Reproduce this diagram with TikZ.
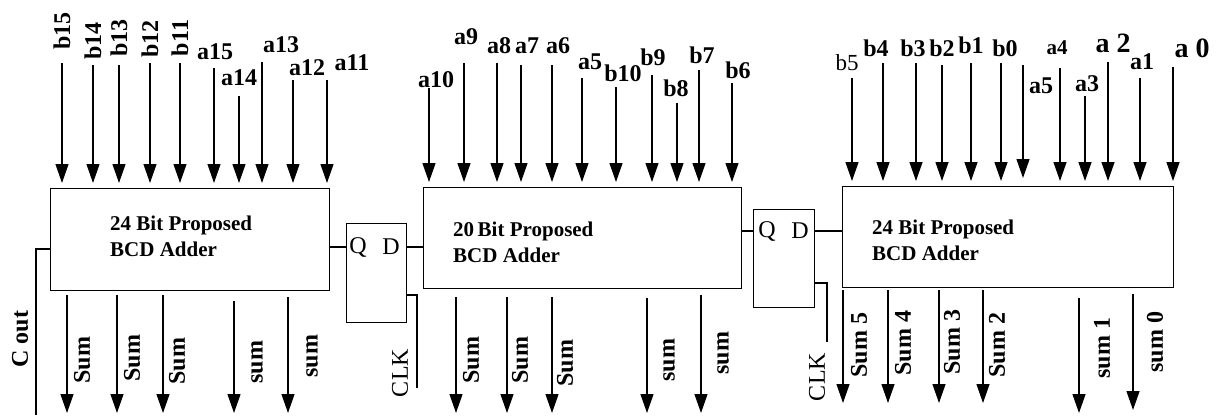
\documentclass[tikz,border=0pt]{standalone}
\usepackage{fontspec}
\setmainfont{Liberation Serif}
\usetikzlibrary{arrows.meta}
\newcommand\lblfont{\fontsize{24}{26}\selectfont\bfseries}
\newcommand\boxfont{\fontsize{21}{26}\selectfont\bfseries}
\newcommand\fffont{\fontsize{24}{26}\selectfont}

\begin{document}
\begin{tikzpicture}[x=1pt, y=-1pt,
  adder/.style={draw, line width=1.3pt, inner sep=0pt, anchor=north west},
  dff/.style={draw, line width=1.3pt, inner sep=0pt, anchor=north west},
  btxt/.style={font=\boxfont, align=left, anchor=west, inner sep=0pt},
  fftxt/.style={font=\fffont, inner sep=0pt},
  wire/.style={line width=1.3pt},
  inarr/.style={line width=1.2pt, -{Triangle[width=13pt,length=19pt]}, shorten >=5pt},
  outarr/.style={line width=1.2pt, -{Triangle[width=13pt,length=19pt]}, shorten <=4pt},
  lbl/.style={font=\lblfont, inner sep=0pt},
  vlbl/.style={lbl, rotate=90}]
\useasboundingbox (0,0) rectangle (1218,415);

% Adders and flip-flops
\node[adder, minimum width=279pt, minimum height=102pt] (add1) at (50,188) {};
\node[adder, minimum width=318pt, minimum height=101pt] (add2) at (423,187) {};
\node[adder, minimum width=331pt, minimum height=101pt] (add3) at (842,186) {};
\node[dff, minimum width=60pt, minimum height=99pt] (ff1) at (346,223) {};
\node[dff, minimum width=61pt, minimum height=98pt] (ff2) at (753,209) {};
\node[btxt] (t1) at (110,236) {24 Bit Proposed\\BCD Adder};
\node[btxt] (t2) at (453,242) {20\,Bit Proposed\\BCD Adder};
\node[btxt] (t3) at (872,240) {24 Bit Proposed\\BCD Adder};
\node[fftxt] (q1) at (358,247) {Q}; \node[fftxt] (d1) at (391,247) {D};
\node[fftxt] (q2) at (767,231) {Q}; \node[fftxt] (d2) at (800,231) {D};

% Wires between stages
\draw[wire] (add1.east |- q1) -- (ff1.west |- q1);
\draw[wire] (ff1.east |- d1) -- (add2.west |- d1);
\draw[wire] (add2.east |- q2) -- (ff2.west |- q2);
\draw[wire] (ff2.east |- d2) -- (add3.west |- d2);

% Clocks and carry out
\coordinate (k1) at (417,295); \coordinate (clk1) at (417,388);
\draw[wire] (ff1.east |- k1) -- (k1) -- (clk1);
\node[fftxt, rotate=90] (ck1) at (400,373) {CLK};
\coordinate (k2) at (827,283); \coordinate (clk2) at (827,342);
\draw[wire] (ff2.east |- k2) -- (k2) -- (clk2);
\node[fftxt, rotate=90] (ck2) at (817,377) {CLK};
\coordinate (co) at (36,249); \coordinate (coend) at (36,415);
\draw[wire] (add1.west |- co) -- (co) -- (coend);
\node[vlbl] (cout) at (20,339) {C out};

% Inputs, first adder
\draw[inarr] (62,63) coordinate (ib15) -- (ib15 |- add1.north); \node[vlbl] (lb15) at (62,31) {b15};
\draw[inarr] (93,65) coordinate (ib14) -- (ib14 |- add1.north); \node[vlbl] (lb14) at (93,41) {b14};
\draw[inarr] (119,65) coordinate (ib13) -- (ib13 |- add1.north); \node[vlbl] (lb13) at (119,38) {b13};
\draw[inarr] (150,63) coordinate (ib12) -- (ib12 |- add1.north); \node[vlbl] (lb12) at (150,39) {b12};
\draw[inarr] (180,63) coordinate (ib11) -- (ib11 |- add1.north); \node[vlbl] (lb11) at (180,38) {b11};
\draw[inarr] (214,68) coordinate (ia15) -- (ia15 |- add1.north); \node[lbl] (la15) at (215,52) {a15};
\draw[inarr] (239,96) coordinate (ia14) -- (ia14 |- add1.north); \node[lbl] (la14) at (239,78) {a14};
\draw[inarr] (262,62) coordinate (ia13) -- (ia13 |- add1.north); \node[lbl] (la13) at (281,45) {a13};
\draw[inarr] (293,80) coordinate (ia12) -- (ia12 |- add1.north); \node[lbl] (la12) at (307,68) {a12};
\draw[inarr] (327,80) coordinate (ia11) -- (ia11 |- add1.north); \node[lbl] (la11) at (352,63) {a11};

% Inputs, second adder
\draw[inarr] (429,88) coordinate (ia10) -- (ia10 |- add2.north); \node[lbl] (la10) at (436,80) {a10};
\draw[inarr] (464,63) coordinate (ia9) -- (ia9 |- add2.north); \node[lbl] (la9) at (466,37) {a9};
\draw[inarr] (497,63) coordinate (ia8) -- (ia8 |- add2.north); \node[lbl] (la8) at (499,46) {a8};
\draw[inarr] (521,65) coordinate (ia7) -- (ia7 |- add2.north); \node[lbl] (la7) at (527,46) {a7};
\draw[inarr] (552,65) coordinate (ia6) -- (ia6 |- add2.north); \node[lbl] (la6) at (558,46) {a6};
\draw[inarr] (582,78) coordinate (ia5) -- (ia5 |- add2.north); \node[lbl] (la5) at (590,62) {a5};
\draw[inarr] (616,87) coordinate (ib10) -- (ib10 |- add2.north); \node[lbl] (lb10) at (623,73) {b10};
\draw[inarr] (652,75) coordinate (ib9) -- (ib9 |- add2.north); \node[lbl] (lb9) at (653,57) {b9};
\draw[inarr] (677,103) coordinate (ib8) -- (ib8 |- add2.north); \node[lbl] (lb8) at (676,88) {b8};
\draw[inarr] (699,70) coordinate (ib7) -- (ib7 |- add2.north); \node[lbl] (lb7) at (702,55) {b7};
\draw[inarr] (732,83) coordinate (ib6) -- (ib6 |- add2.north); \node[lbl] (lb6) at (738,70) {b6};

% Inputs, third adder
\draw[inarr] (852,78) coordinate (ib5) -- (ib5 |- add3.north); \node[lbl, font=\fontsize{23}{25}\selectfont] (lb5) at (847,63) {b5};
\draw[inarr] (883,63) coordinate (ib4) -- (ib4 |- add3.north); \node[lbl] (lb4) at (876,48) {b4};
\draw[inarr] (916,63) coordinate (ib3) -- (ib3 |- add3.north); \node[lbl] (lb3) at (913,48) {b3};
\draw[inarr] (942,65) coordinate (ib2) -- (ib2 |- add3.north); \node[lbl] (lb2) at (942,48) {b2};
\draw[inarr] (971,63) coordinate (ib1) -- (ib1 |- add3.north); \node[lbl] (lb1) at (971,45) {b1};
\draw[inarr] (1001,63) coordinate (ib0) -- (ib0 |- add3.north); \node[lbl] (lb0) at (1005,48) {b0};
\draw[inarr, shorten >=8pt] (1023,65) coordinate (ic5) -- (ic5 |- add3.north); \node[lbl] (lc5) at (1041,86) {a5};
\draw[inarr] (1060,68) coordinate (ic4) -- (ic4 |- add3.north); \node[lbl, font=\fontsize{21}{23}\selectfont\bfseries] (lc4) at (1057,48) {a4};
\draw[inarr] (1085,96) coordinate (ic3) -- (ic3 |- add3.north); \node[lbl] (lc3) at (1087,84) {a3};
\draw[inarr] (1108,62) coordinate (ic2) -- (ic2 |- add3.north); \node[lbl, font=\fontsize{28}{30}\selectfont\bfseries] (lc2) at (1113,43) {a 2};
\draw[inarr] (1140,78) coordinate (ic1) -- (ic1 |- add3.north); \node[lbl] (lc1) at (1142,62) {a1};
\draw[inarr] (1173,67) coordinate (ic0) -- (ic0 |- add3.north); \node[lbl, font=\fontsize{28}{30}\selectfont\bfseries] (lc0) at (1192,48) {a 0};

% Sum outputs
\coordinate (o11) at (67,413); \draw[outarr] (add1.south -| o11) -- (o11); \node[vlbl] (s11) at (82,360) {Sum};
\coordinate (o12) at (117,413); \draw[outarr] (add1.south -| o12) -- (o12); \node[vlbl] (s12) at (132,358) {Sum};
\coordinate (o13) at (163,413); \draw[outarr] (add1.south -| o13) -- (o13); \node[vlbl] (s13) at (177,361) {Sum};
\coordinate (o14) at (234,413); \draw[outarr, shorten <=10pt] (add1.south -| o14) -- (o14); \node[vlbl] (s14) at (257,362) {sum};
\coordinate (o15) at (288,413); \draw[outarr, shorten <=6pt] (add1.south -| o15) -- (o15); \node[vlbl] (s15) at (312,356) {sum};
\coordinate (o21) at (456,413); \draw[outarr, shorten <=8pt] (add2.south -| o21) -- (o21); \node[vlbl] (s21) at (471,360) {Sum};
\coordinate (o22) at (507,413); \draw[outarr, shorten <=8pt] (add2.south -| o22) -- (o22); \node[vlbl] (s22) at (520,360) {Sum};
\coordinate (o23) at (552,413); \draw[outarr, shorten <=8pt] (add2.south -| o23) -- (o23); \node[vlbl] (s23) at (565,363) {Sum};
\coordinate (o24) at (647,413); \draw[outarr, shorten <=9pt] (add2.south -| o24) -- (o24); \node[vlbl] (s24) at (669,360) {sum};
\coordinate (o25) at (701,413); \draw[outarr, shorten <=6pt] (add2.south -| o25) -- (o25); \node[vlbl] (s25) at (723,353) {sum};
\coordinate (o35) at (843,403); \draw[outarr, shorten <=2pt] (add3.south -| o35) -- (o35); \node[vlbl] (s35) at (859,345) {Sum 5};
\coordinate (o34) at (888,403); \draw[outarr, shorten <=2pt] (add3.south -| o34) -- (o34); \node[vlbl] (s34) at (903,343) {Sum 4};
\coordinate (o33) at (939,403); \draw[outarr, shorten <=2pt] (add3.south -| o33) -- (o33); \node[vlbl] (s33) at (952,342) {Sum 3};
\coordinate (o32) at (983,403); \draw[outarr, shorten <=2pt] (add3.south -| o32) -- (o32); \node[vlbl] (s32) at (997,345) {Sum 2};
\coordinate (o31) at (1079,413); \draw[outarr, shorten <=10pt] (add3.south -| o31) -- (o31); \node[vlbl] (s31) at (1102,348) {sum 1};
\coordinate (o30) at (1133,410); \draw[outarr, shorten <=6pt] (add3.south -| o30) -- (o30); \node[vlbl] (s30) at (1155,342) {sum 0};
\end{tikzpicture}
\end{document}
